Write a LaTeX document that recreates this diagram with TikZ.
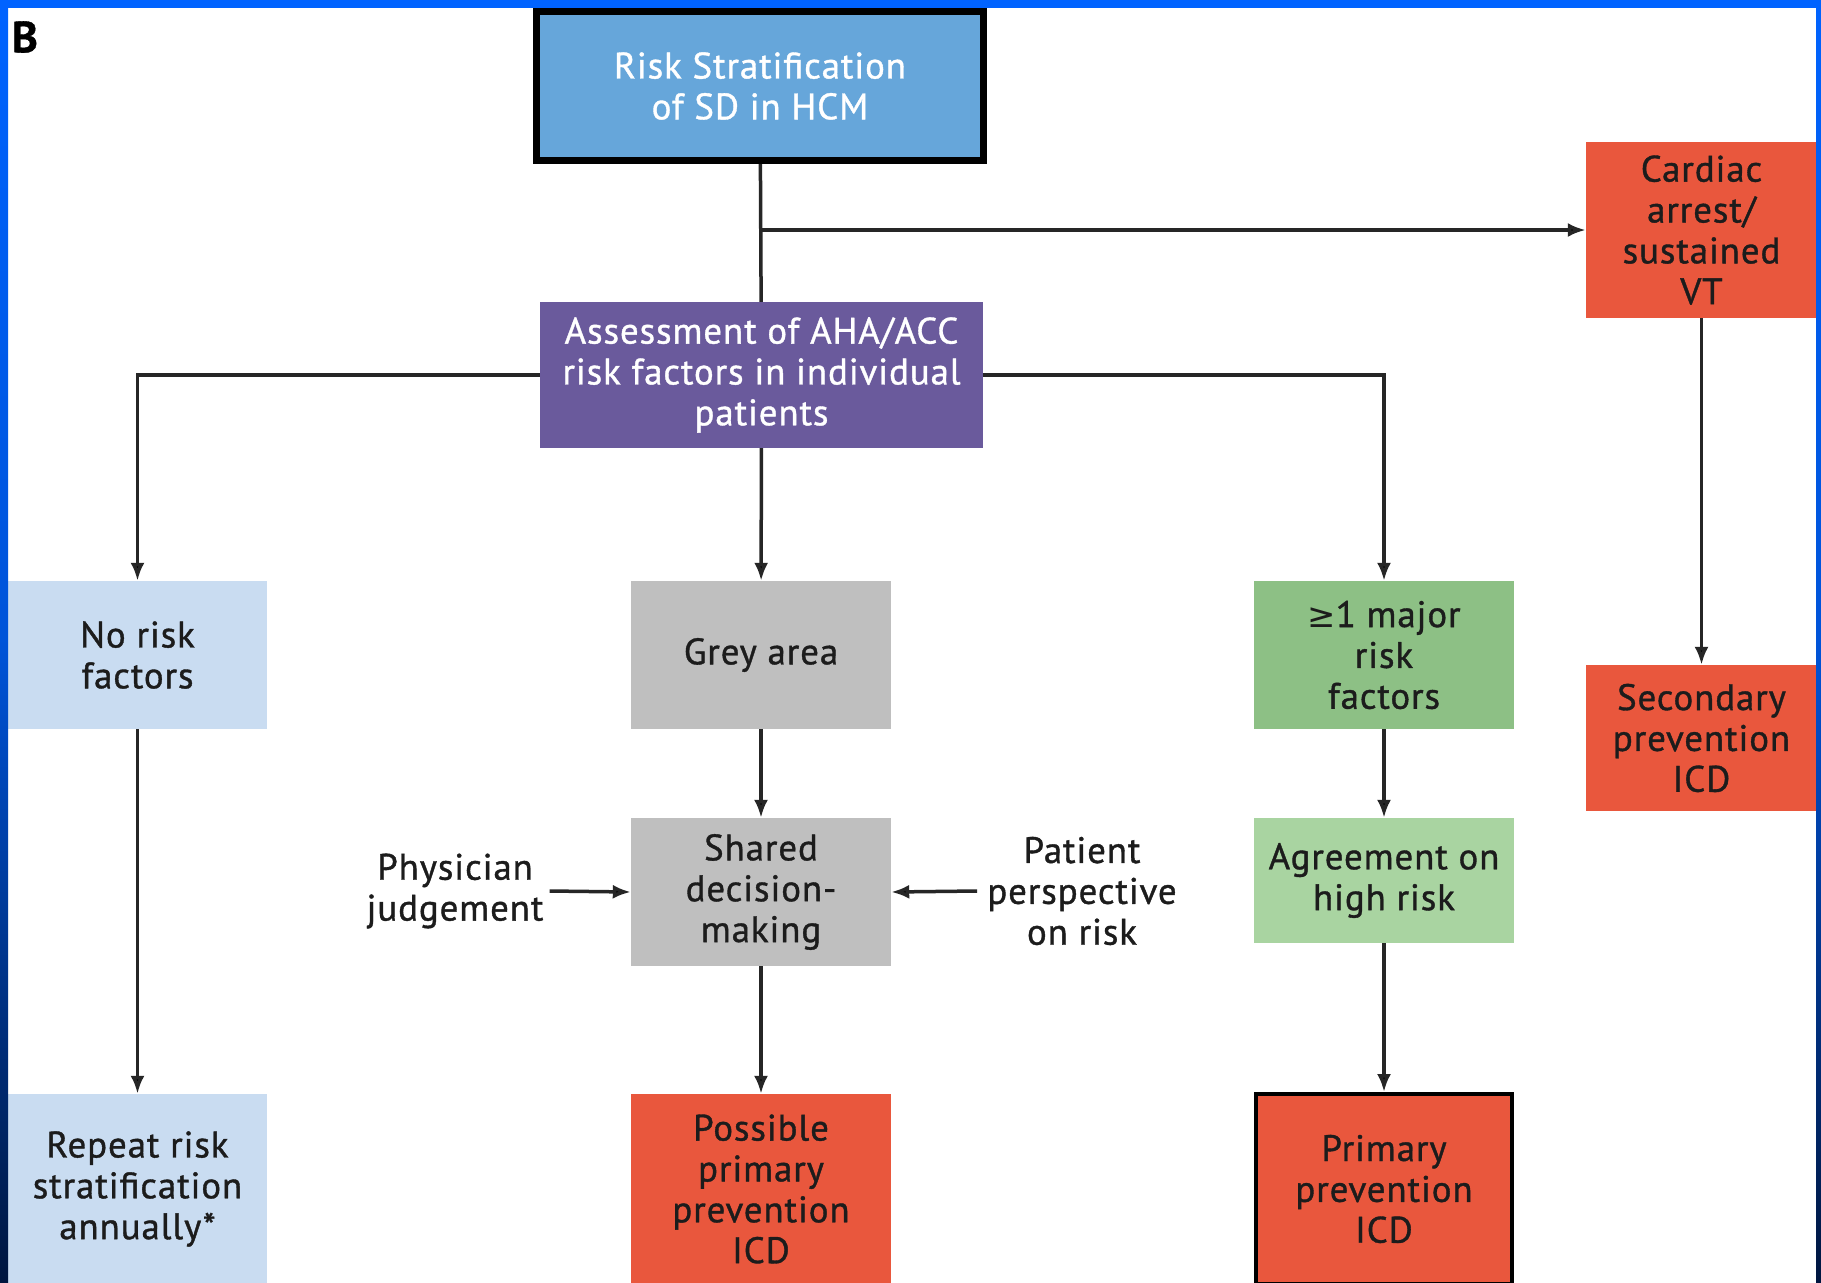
\documentclass[tikz,border=0pt]{standalone}
\usepackage{fontspec}
\setmainfont{PT Sans}[FakeBold=0.9]
\newfontfamily\boxfont{PT Sans}[FakeBold=1.0, LetterSpace=2.5]
\newfontfamily\symfont{DejaVu Sans}
\usetikzlibrary{arrows.meta}

\definecolor{frameblue}{HTML}{0063FF}
\definecolor{framenavy}{HTML}{00163F}
\definecolor{topblue}{HTML}{66A6DA}
\definecolor{assesspurple}{HTML}{6A5A9C}
\definecolor{lightblue}{HTML}{C9DCF1}
\definecolor{greybox}{HTML}{BFBFBF}
\definecolor{greenbox}{HTML}{8DC085}
\definecolor{lightgreen}{HTML}{A9D4A1}
\definecolor{redbox}{HTML}{E9573D}
\definecolor{linegrey}{HTML}{262626}
\definecolor{textdark}{HTML}{1C1C1C}

\begin{document}
\begin{tikzpicture}[x=1bp,y=-1bp,
  box/.style={rectangle, inner sep=0pt, align=center, text=textdark,
    font=\boxfont\fontsize{37}{41}\selectfont},
  lbl/.style={inner sep=6bp, align=center, text=textdark,
    font=\boxfont\fontsize{37}{41}\selectfont},
  arr/.style={draw=linegrey, line width=3.5bp,
    -{Latex[length=18bp,width=14bp,fill=black]}},
  plain/.style={draw=linegrey, line width=3.5bp}]

\useasboundingbox (0,0) rectangle (1821,1282);
\clip (0,0) rectangle (1821,1282);
\fill[white] (0,0) rectangle (1821,1282);

% boxes
\node[box, fill=topblue, draw=black, line width=7bp, text=white,
  minimum width=447bp, minimum height=149bp] (top) at (760,86)
  {Risk Stratification\\of SD in HCM};
\node[box, fill=redbox, minimum width=231bp, minimum height=176bp]
  (cardiac) at (1701.5,230) {Cardiac\\arrest/\\sustained\\VT};
\node[box, fill=assesspurple, text=white, minimum width=443bp,
  minimum height=146bp] (assess) at (761.5,375)
  {Assessment of AHA/ACC\\risk factors in individual\\patients};
\node[box, fill=lightblue, minimum width=259bp, minimum height=148bp]
  (norisk) at (137.5,655) {No risk\\factors};
\node[box, fill=greybox, minimum width=260bp, minimum height=148bp]
  (grey) at (761,655) {Grey area};
\node[box, fill=greenbox, minimum width=260bp, minimum height=148bp]
  (major) at (1384,655) {{\symfont\fontsize{34}{41}\selectfont ≥}1 major\\risk\\factors};
\node[box, fill=redbox, minimum width=231bp, minimum height=146bp]
  (secondary) at (1701.5,738) {Secondary\\prevention\\ICD};
\node[box, fill=greybox, minimum width=260bp, minimum height=148bp]
  (shared) at (761,892) {Shared\\decision-\\making};
\node[box, fill=lightgreen, minimum width=260bp, minimum height=125bp]
  (agree) at (1384,880.5) {Agreement on\\high risk};
\node[box, fill=lightblue, minimum width=259bp, minimum height=190bp]
  (repeat) at (137.5,1189) {Repeat risk\\stratification\\annually*};
\node[box, fill=redbox, minimum width=260bp, minimum height=190bp]
  (possible) at (761,1189) {Possible\\primary\\prevention\\ICD};
\node[box, fill=redbox, draw=black, line width=4bp,
  minimum width=256bp, minimum height=190bp] (primary) at (1384,1189)
  {Primary\\prevention\\ICD};

% side labels
\node[lbl] (phys) at (455,891) {Physician\\judgement};
\node[lbl, inner xsep=10bp] (patient) at (1082,891)
  {Patient\\perspective\\on risk};

% connectors
\draw[plain] (top) -- (assess);
\draw[arr] (top |- cardiac.west) -- (cardiac.west);
\draw[arr] (assess.west) -| (norisk.north);
\draw[arr] (assess.east) -| (major.north);
\draw[arr] (assess) -- (grey);
\draw[arr] (grey) -- (shared);
\draw[arr] (shared) -- (possible);
\draw[arr] (norisk) -- (repeat);
\draw[arr] (major) -- (agree);
\draw[arr] (agree) -- (primary);
\draw[arr] (cardiac) -- (secondary);
\draw[arr] (phys.east) -- (shared.west);
\draw[arr] (patient.west) -- (shared.east);

% panel letter
\node[font=\fontsize{44}{44}\selectfont\bfseries, inner sep=0pt]
  (panel) at (25,37) {B};

% frame
\fill[frameblue] (0,0) rectangle (1821,8);
\shade[top color=frameblue, bottom color=framenavy, middle color=frameblue!80!framenavy]
  (0,0) rectangle (8,1282);
\shade[top color=frameblue, bottom color=framenavy, middle color=frameblue!80!framenavy]
  (1816,0) rectangle (1821,1282);
\end{tikzpicture}
\end{document}
